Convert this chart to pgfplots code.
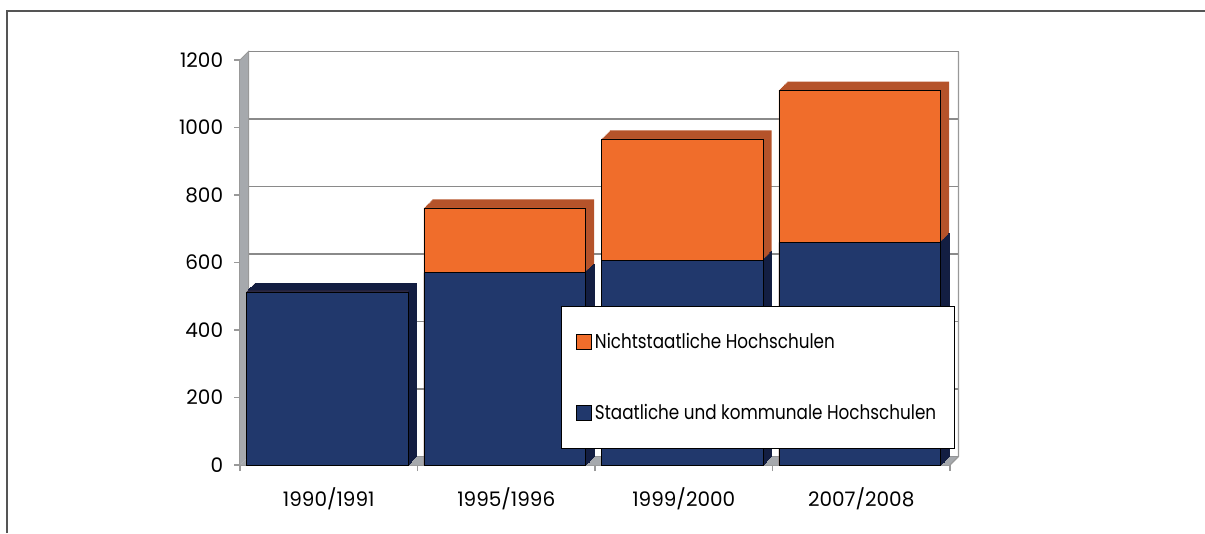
\documentclass[border=0pt]{standalone}
\usepackage{fontspec}
\setmainfont{Poppins}
\newfontfamily\legfont{Poppins}[FakeStretch=0.84]
\usepackage{pgfplots}
\pgfplotsset{compat=1.18}
\usepackage{pgfplotstable}
\definecolor{blueF}{HTML}{21386C}
\definecolor{orangeF}{HTML}{F06D2B}
\definecolor{blueS}{HTML}{131E42}
\definecolor{orangeS}{HTML}{B5532A}
\definecolor{framegray}{HTML}{555555}
\definecolor{gridgray}{HTML}{8A8A8A}
\definecolor{wallgray}{HTML}{A6A9AD}
\pgfplotstableread{
cat b o
0 513 0
1 570 192
2 607 359
3 660 451
}\datatable
\begin{document}
\begin{tikzpicture}
\useasboundingbox (0,0) rectangle (723pt,-319.8pt);
\draw[color=framegray, line width=1.2pt] (4.2pt,-319.8pt) -- (4.2pt,-6.3pt) -- (723pt,-6.3pt);
\begin{axis}[
 at={(144pt,-279pt)}, anchor=south west,
 scale only axis, width=426pt, height=243pt,
 xmin=-0.5, xmax=3.5, ymin=0, ymax=1200,
 clip=false,
 axis x line*=bottom, axis y line*=left,
 axis line style={draw=gray!80, line width=0.8pt},
 tick align=outside, major tick length=3.6pt,
 tick style={draw=gray!80, line width=0.8pt},
 xtick={-0.5,0.5,1.5,2.5,3.5}, xticklabels={},
 extra x ticks={0,1,2,3},
 extra x tick labels={1990/1991,1995/1996,1999/2000,2007/2008},
 extra x tick style={major tick length=0pt, tick label style={yshift=-10pt}},
 ytick={0,200,...,1200},
 ymajorgrids,
 major grid style={draw=gridgray, line width=0.8pt, xshift=5.1pt, yshift=5.1pt},
 tick label style={font=\fontsize{12}{14}\selectfont},
 /pgf/number format/assume math mode=true,
 /pgf/number format/1000 sep={},
 yticklabel style={xshift=-3pt},
 legend style={at={(1.007,0.3926)}, anchor=north east, draw=black, line width=0.5pt,
   fill=white, inner xsep=9pt, inner ysep=14pt, row sep=28pt,
   font=\legfont\fontsize{12}{14}\selectfont},
 legend cell align=left,
 legend image code/.code={\draw[#1, draw=black, line width=0.4pt] (0pt,-4.5pt) rectangle (9pt,4.5pt);},
]
% left wall and floor
\fill[wallgray] (rel axis cs:0,0) -- (rel axis cs:0,1) -- ([shift={(5.1pt,5.1pt)}]rel axis cs:0,1) -- ([shift={(5.1pt,5.1pt)}]rel axis cs:0,0) -- cycle;
\draw[gray!80, line width=0.6pt] (rel axis cs:0,1) -- ([shift={(5.1pt,5.1pt)}]rel axis cs:0,1) -- ([shift={(5.1pt,5.1pt)}]rel axis cs:0,0);
\fill[wallgray] (rel axis cs:0,0) -- (rel axis cs:1,0) -- ([shift={(5.1pt,5.1pt)}]rel axis cs:1,0) -- ([shift={(5.1pt,5.1pt)}]rel axis cs:0,0) -- cycle;
\draw[gray!80, line width=0.8pt] (rel axis cs:1,0) -- ([shift={(5.1pt,5.1pt)}]rel axis cs:1,0) -- ([shift={(5.1pt,5.1pt)}]rel axis cs:1,1);
% depth copies
\pgfplotsinvokeforeach{8,7,6,5,4,3,2,1}{
 \addplot[ybar, bar width=97pt, bar shift=-0.9pt, fill=orangeS, draw=none, forget plot,
   xshift=#1*0.64pt, yshift=#1*0.64pt] table[x=cat, y expr=\thisrow{b}+\thisrow{o}] {\datatable};
 \addplot[ybar, bar width=97pt, bar shift=-0.9pt, fill=blueS, draw=blueS, line width=0.3pt, forget plot,
   xshift=#1*0.64pt, yshift=#1*0.64pt] table[x=cat, y=b] {\datatable};
}
% front faces
\addplot[ybar, bar width=97pt, bar shift=-0.9pt, fill=orangeF, draw=black, line width=0.4pt]
  table[x=cat, y expr=\thisrow{b}+\thisrow{o}] {\datatable};
\addlegendentry{Nichtstaatliche Hochschulen}
\addplot[ybar, bar width=97pt, bar shift=-0.9pt, fill=blueF, draw=black, line width=0.4pt]
  table[x=cat, y=b] {\datatable};
\addlegendentry{Staatliche und kommunale Hochschulen}
\end{axis}
\end{tikzpicture}
\end{document}
